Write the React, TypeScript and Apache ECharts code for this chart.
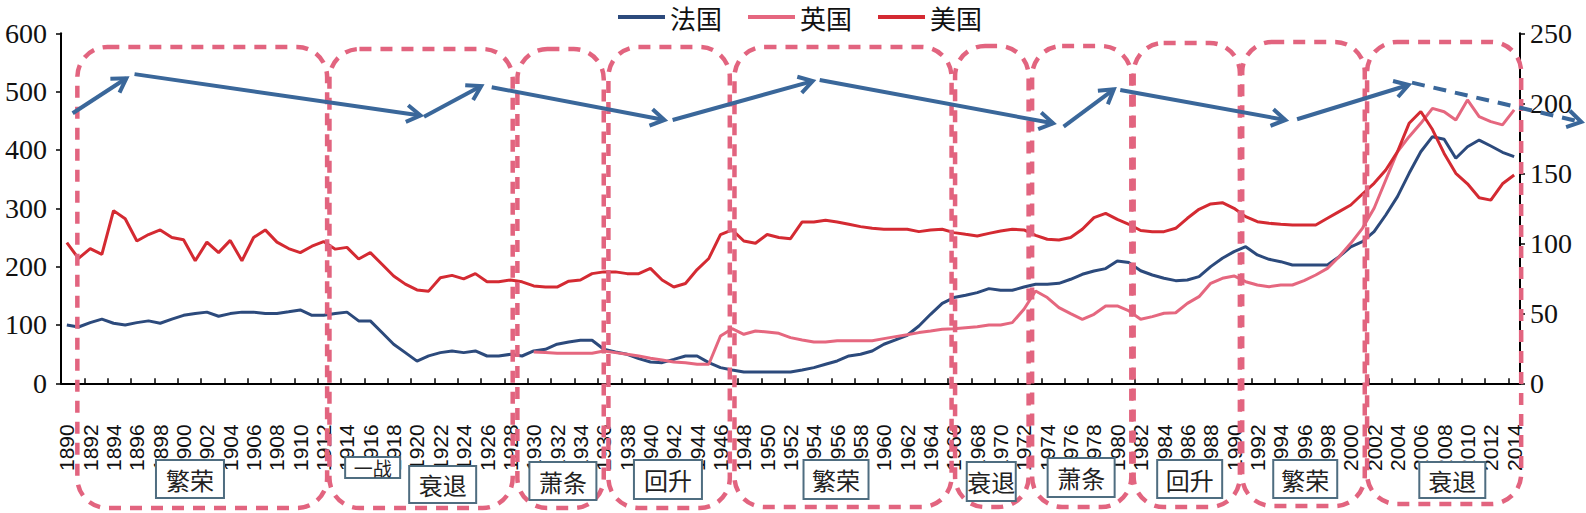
import React, { useEffect, useRef } from "react";
import * as echarts from "echarts";

// ---------- data ----------
const years: number[] = Array.from({ length: 125 }, (_, i) => 1890 + i);

// 法国 1890-2014
const france: number[] = [
  100, 96.5, 104, 110, 103, 100, 104, 107, 103, 110,
  116.5, 119.5, 122, 115, 119.5, 122, 122, 119.5, 119.5, 122.5,
  125.7, 116.5, 116.5, 119.5, 122, 107, 107, 87, 67, 52.6,
  38, 47, 52.6, 55.4, 52.6, 55.4, 46.8, 46.8, 49.7, 46.8,
  55.4, 58.3, 67, 70.8, 73.7, 73.7, 58.3, 53.7, 49.7, 42.3,
  36.6, 35.4, 41, 46.8, 46.8, 35.4, 26.9, 22.9, 19.4, 19.4,
  19.4, 19.4, 19.4, 22.9, 26.9, 32.6, 38.3, 46.9, 49.7, 55.4,
  66.9, 74.3, 82.3, 98.3, 118.3, 137, 147, 151, 155.4, 162.3,
  159.4, 159.4, 165, 169.7, 169.7, 171.4, 178.3, 186.9, 192.6, 196.6,
  209.7, 206.9, 193, 185.7, 180, 176, 177, 182.8, 200, 214.3,
  225.7, 234.2, 220, 212.6, 208.5, 202.8, 202.8, 202.8, 202.8, 217,
  234, 242.8, 260, 288.5, 320, 360, 397, 422.8, 418.3, 385.7,
  405.6, 417, 406.8, 396, 388.5,
];

// 英国 1930-2014 (no data before 1930)
const britain: (number | null)[] = [
  null, null, null, null, null, null, null, null, null, null,
  null, null, null, null, null, null, null, null, null, null,
  null, null, null, null, null, null, null, null, null, null,
  null, null, null, null, null, null, null, null, null, null,
  53.7, 52.6, 51.4, 51.4, 51.4, 51.4, 55.4, 52.6, 49.7, 46.8,
  42.9, 40, 36.6, 35.4, 32.6, 32.6, 81, 93.7, 84, 89.7,
  88, 85.7, 78.3, 74.3, 70.8, 70.8, 73.1, 73.1, 73.1, 73.1,
  76.6, 80, 83.4, 86.9, 89.7, 92.6, 93.7, 95.4, 97.1, 100,
  100, 104, 126.9, 158.3, 147, 129.8, 119.5, 109.7, 118.3, 132.6,
  132.6, 124, 109.7, 114.3, 120, 121, 137, 148.5, 171.4, 180,
  184, 174.2, 168.5, 165.6, 168.5, 168.5, 176, 185.7, 197, 217,
  240, 265.7, 300, 348.5, 397, 422.8, 445.7, 471.4, 465.6, 451.4,
  485.7, 457, 448.5, 443, 468.6,
];

// 美国 1890-2014
const usa: number[] = [
  241, 214, 231, 221, 296, 282, 244, 255, 263, 250,
  246, 210, 242, 224, 245, 210, 250, 263, 242, 231,
  224, 235, 243, 230, 233, 213, 224, 204, 184, 170,
  160, 158, 181, 185, 179, 188, 174, 174, 177, 174,
  167, 165, 165, 175, 177, 188, 191, 191, 188, 188,
  197, 177, 165, 171, 195, 214, 255, 263, 244, 240,
  255, 250, 248, 276.6, 276.6, 279.4, 276.6, 272.6, 268.6, 265.7,
  264, 264, 264, 260, 262.9, 264, 258.3, 255.4, 252.6, 257,
  261, 264, 263, 253.7, 246.9, 245.7, 250, 264, 284, 291.4,
  281, 272.6, 262, 260, 260, 265.7, 282.9, 298.3, 307.4, 309.7,
  300, 285.7, 277, 274.3, 272.6, 271.4, 271.4, 271.4, 282.9, 294.3,
  305.7, 324.5, 342.9, 365.7, 397, 445.7, 466, 435, 394, 360,
  342, 318, 314, 342, 357,
];

const seriesNames = ["法国", "英国", "美国"];
const leftTicks = { min: 0, max: 600, interval: 100 };
const rightTicks = { min: 0, max: 250, interval: 50 };

// economic periods (dashed boxes), in years along the category axis
const periodStart = [1890.9, 1912.5, 1928.6, 1936.4, 1947.2, 1966.1, 1972.7, 1981.4, 1990.7, 2001.4];
const periodEnd = [1912.3, 1928.2, 1936.0, 1946.8, 1965.8, 1972.4, 1981.2, 1990.5, 2001.2, 2014.6];

// phase labels and their centre year
const phaseText = ["繁荣", "一战", "衰退", "萧条", "回升", "繁荣", "衰退", "萧条", "回升", "繁荣", "衰退"];
const phaseCenter = [1900.55, 1916.2, 1922.2, 1932.5, 1941.5, 1955.9, 1969.2, 1976.9, 1986.2, 1996.1, 2008.7];

// trend arrows: [startYear, startValue, endYear, endValue] on the left axis scale
const trendArrows: number[][] = [
  [1890.5, 463, 1895.1, 523],
  [1895.8, 530, 1920.3, 459],
  [1920.6, 457, 1925.5, 509.5],
  [1926.4, 507.6, 1941.2, 451.4],
  [1941.9, 451.4, 1953.9, 518],
  [1954.5, 520, 1974.5, 445.7],
  [1975.4, 440, 1979.7, 504],
  [1980.25, 502.8, 1994.4, 451.4],
  [1995.4, 452.6, 2004.95, 511.4],
  [2005.25, 515.4, 2019.75, 448],
];
const dashedArrow = [false, false, false, false, false, false, false, false, false, true];

// ---------- layout / style ----------
const W = 1586;
const H = 513;
const BLUE = "#2C4A7C";
const PINK = "#E5677F";
const RED = "#D42A32";
const ARROW = "#3A679A";
const BOX = "#E2647F";
const LABEL_BORDER = "#4F6D80";
const CJK = "'Noto Sans CJK SC', sans-serif";

const boxTop = [47, 49, 49, 47, 47, 46, 46, 43, 42, 42];
const boxBottom = [508, 508, 508, 508, 507, 507, 507, 507, 506, 504];
const labelW = [68, 55, 67, 67, 68, 65, 49, 67, 65, 64, 66];
const labelTop = [460, 457, 466, 462, 460, 460, 462, 458, 460, 460, 462];
const labelH = [38, 21, 37, 38, 39, 39, 39, 39, 38, 38, 36];
const labelFont = [24, 19, 24, 24, 24, 24, 24, 24, 24, 24, 24];

export default function App() {
  const ref = useRef<HTMLDivElement>(null);

  useEffect(() => {
    if (!ref.current) return;
    const chart = echarts.init(ref.current, null, { renderer: "svg" });

    const lineSeries = (name: string, data: (number | null)[], color: string) => ({
      name,
      type: "line",
      data,
      yAxisIndex: 0,
      showSymbol: false,
      symbol: "none",
      connectNulls: false,
      lineStyle: { color, width: 3 },
      itemStyle: { color },
      z: 3,
    });

    chart.setOption({
      animation: false,
      backgroundColor: "#ffffff",
      grid: { left: 61, right: 66, top: 33.3, bottom: 129.7, containLabel: false },
      legend: {
        data: seriesNames,
        left: 618,
        top: 0,
        padding: 0,
        icon: "rect",
        itemWidth: 47,
        itemHeight: 4,
        itemGap: 26,
        textStyle: { fontSize: 26, fontFamily: CJK, color: "#111", lineHeight: 34 },
      },
      xAxis: {
        type: "category",
        data: years.map(String),
        boundaryGap: true,
        axisLine: { show: true, lineStyle: { color: "#000", width: 2 } },
        axisTick: { show: true, inside: true, length: 5, interval: 1, lineStyle: { color: "#000", width: 1.5 } },
        axisLabel: {
          interval: 1,
          rotate: 90,
          margin: 41,
          fontSize: 21,
          fontFamily: "'Liberation Sans', Arial, sans-serif",
          color: "#111",
        },
        splitLine: { show: false },
      },
      yAxis: [
        {
          type: "value",
          ...leftTicks,
          position: "left",
          axisLine: { show: true, lineStyle: { color: "#000", width: 2 } },
          axisTick: { show: true, length: 5, lineStyle: { color: "#000", width: 1.5 } },
          axisLabel: { margin: 14, fontSize: 28, fontFamily: "'Liberation Serif', 'Times New Roman', serif", color: "#111" },
          splitLine: { show: false },
        },
        {
          type: "value",
          ...rightTicks,
          position: "right",
          axisLine: { show: true, lineStyle: { color: "#000", width: 2 } },
          axisTick: { show: true, length: 5, lineStyle: { color: "#000", width: 1.5 } },
          axisLabel: { margin: 10, fontSize: 28, fontFamily: "'Liberation Serif', 'Times New Roman', serif", color: "#111" },
          splitLine: { show: false },
        },
      ],
      series: [
        lineSeries(seriesNames[0], france, BLUE),
        lineSeries(seriesNames[1], britain, PINK),
        lineSeries(seriesNames[2], usa, RED),
      ],
    });

    // ---------- annotations, positioned through the axes ----------
    const x0 = chart.convertToPixel({ xAxisIndex: 0 }, 0) as number;
    const x1 = chart.convertToPixel({ xAxisIndex: 0 }, years.length - 1) as number;
    const step = (x1 - x0) / (years.length - 1);
    const xAt = (yr: number) => x0 + (yr - years[0]) * step;
    const yAt = (v: number) => chart.convertToPixel({ yAxisIndex: 0 }, v) as number;

    const elements: any[] = [];

    periodStart.forEach((s, i) => {
      const xa = xAt(s);
      const xb = xAt(periodEnd[i]);
      elements.push({
        type: "rect",
        z: 10,
        silent: true,
        shape: { x: xa, y: boxTop[i], width: xb - xa, height: boxBottom[i] - boxTop[i], r: 30 },
        style: { fill: "none", stroke: BOX, lineWidth: 4.5, lineDash: [12, 9] },
      });
    });

    phaseText.forEach((t, i) => {
      const cx = xAt(phaseCenter[i]);
      const w = labelW[i];
      elements.push({
        type: "rect",
        z: 11,
        silent: true,
        shape: { x: cx - w / 2, y: labelTop[i], width: w, height: labelH[i] },
        style: { fill: "#fff", stroke: LABEL_BORDER, lineWidth: 2 },
      });
      elements.push({
        type: "text",
        z: 12,
        silent: true,
        x: cx,
        y: labelTop[i] + labelH[i] / 2,
        style: {
          text: t,
          fontSize: labelFont[i],
          fontFamily: CJK,
          fill: "#222",
          align: "center",
          verticalAlign: "middle",
        },
      });
    });

    trendArrows.forEach((a, i) => {
      const xa = xAt(a[0]);
      const ya = yAt(a[1]);
      const xb = xAt(a[2]);
      const yb = yAt(a[3]);
      const dx = xb - xa;
      const dy = yb - ya;
      const len = Math.hypot(dx, dy);
      const bx = -dx / len;
      const by = -dy / len;
      const L = 16;
      const ang = 0.55;
      const c = Math.cos(ang);
      const s = Math.sin(ang);
      const p1 = [xb + L * (bx * c - by * s), yb + L * (bx * s + by * c)];
      const p2 = [xb + L * (bx * c + by * s), yb + L * (-bx * s + by * c)];
      elements.push({
        type: "line",
        z: 13,
        silent: true,
        shape: { x1: xa, y1: ya, x2: xb, y2: yb },
        style: { stroke: ARROW, lineWidth: 4, lineDash: dashedArrow[i] ? [13, 9] : null },
      });
      elements.push({
        type: "polyline",
        z: 13,
        silent: true,
        shape: { points: [p1, [xb, yb], p2] },
        style: { stroke: ARROW, lineWidth: 4, fill: null },
      });
    });

    chart.setOption({ graphic: { elements } });

    return () => chart.dispose();
  }, []);

  return (
    <div
      ref={ref}
      style={{ position: "absolute", left: 0, top: 0, width: W, height: H, background: "#fff" }}
    />
  );
}
